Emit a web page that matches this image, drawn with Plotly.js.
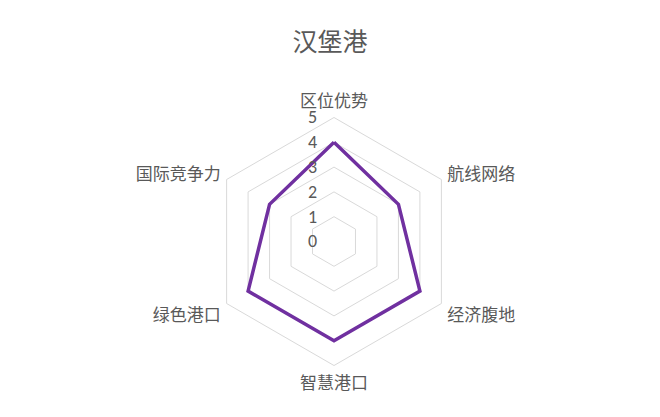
<!DOCTYPE html>
<html>
<head>
<meta charset="utf-8">
<script src="https://cdn.plot.ly/plotly-3.0.1.min.js"></script>
<style>html,body{margin:0;padding:0;background:#fff;}#chart{width:660px;height:417px;}</style>
</head>
<body>
<div id="chart"></div>
<script>
const categories = ["区位优势", "航线网络", "经济腹地", "智慧港口", "绿色港口", "国际竞争力"];
const values = [4, 3, 4, 4, 4, 3];
const seriesName = "汉堡港";
const radialTicks = [0, 1, 2, 3, 4, 5];

const theta = categories.concat([categories[0]]);
const r = values.concat([values[0]]);

const font = "'Noto Sans CJK SC', 'Noto Sans', sans-serif";
const numFont = "Carlito, 'Liberation Sans', 'DejaVu Sans', sans-serif";
const W = 660, H = 417, cx = 334, cy = 241.5, R = 124;

Plotly.newPlot("chart", [{
  type: "scatterpolar",
  mode: "lines",
  r: r,
  theta: theta,
  name: seriesName,
  line: {color: "#7030A0", width: 3.5},
  hoverinfo: "r+theta"
}], {
  width: W, height: H,
  margin: {l: 0, r: 0, t: 0, b: 0},
  paper_bgcolor: "#ffffff",
  showlegend: false,
  title: {text: "汉堡港", x: 0.5, xanchor: "center", y: 1 - 42 / H, yanchor: "middle",
          font: {family: font, size: 25, color: "#595959"}},
  polar: {
    domain: {x: [(cx - R) / W, (cx + R) / W], y: [(H - cy - R) / H, (H - cy + R) / H]},
    gridshape: "linear",
    bgcolor: "rgba(0,0,0,0)",
    angularaxis: {
      direction: "clockwise", rotation: 90,
      showline: true, linecolor: "#d9d9d9", linewidth: 1,
      showgrid: false, ticks: "outside", ticklen: 3, tickcolor: "rgba(0,0,0,0)",
      tickfont: {family: font, size: 17, color: "#595959"}
    },
    radialaxis: {
      range: [0, 5], tickvals: radialTicks, angle: 90, tickangle: 90,
      showline: false, ticks: "outside", ticklen: 10, tickcolor: "rgba(0,0,0,0)",
      gridcolor: "#d9d9d9", gridwidth: 1,
      tickfont: {family: numFont, size: 18, color: "#595959"},
      side: "counterclockwise"
    }
  }
}, {displayModeBar: false, staticPlot: true});
</script>
</body>
</html>
